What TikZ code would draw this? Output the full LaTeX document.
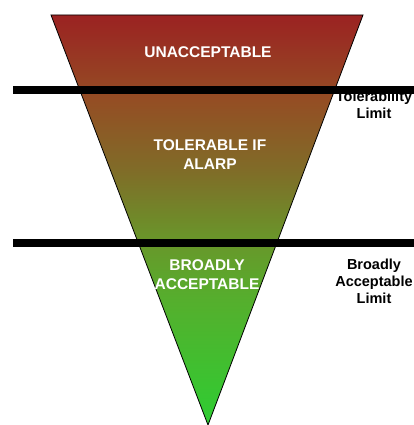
\documentclass[tikz,border=0pt]{standalone}
\usepackage{fontspec}
\setmainfont{Liberation Sans}
\definecolor{s0}{RGB}{46,205,50}
\definecolor{s1}{RGB}{85,175,45}
\definecolor{s2}{RGB}{105,150,42}
\definecolor{s3}{RGB}{128,108,40}
\definecolor{s4}{RGB}{148,78,36}
\definecolor{s5}{RGB}{155,34,34}
\pgfdeclareverticalshading{risk}{100bp}{color(0bp)=(s0); color(25bp)=(s0); color(40.2bp)=(s1); color(47.6bp)=(s2); color(56.1bp)=(s3); color(64.6bp)=(s4); color(75bp)=(s5); color(100bp)=(s5)}
\begin{document}
\begin{tikzpicture}[x=1pt,y=-1pt,
  inner/.style={text=white,font=\fontsize{15.5}{19}\selectfont\bfseries,align=center},
  side/.style={text=black,font=\fontsize{14.5}{17}\selectfont\bfseries,align=center},
  bar/.style={line width=8.5pt}]
\useasboundingbox (0,0) rectangle (414,425);
\coordinate (tl) at (51,15);
\coordinate (tr) at (363,15);
\coordinate (ap) at (208,425);
\shade[shading=risk,draw=black,line width=0.8pt]
  (tl) -- (tr) -- (ap) -- cycle;
\node[inner] (u) at (208,52) {UNACCEPTABLE};
\node[inner] (t) at (210,155) {TOLERABLE IF\\ALARP};
\node[inner] (b) at (207,275) {BROADLY\\ACCEPTABLE};
\begin{scope}
\clip (0,0) rectangle (414,425);
\node[side] (tlim) at (374,104.5) {Tolerability\\Limit};
\node[side] (blim) at (374,281) {Broadly\\Acceptable\\Limit};
\end{scope}
\coordinate (b1l) at (13,90);
\coordinate (b1r) at (414,90);
\coordinate (b2l) at (13,243);
\coordinate (b2r) at (414,243);
\draw[bar] (b1l) -- (b1r);
\draw[bar] (b2l) -- (b2r);
\end{tikzpicture}
\end{document}
